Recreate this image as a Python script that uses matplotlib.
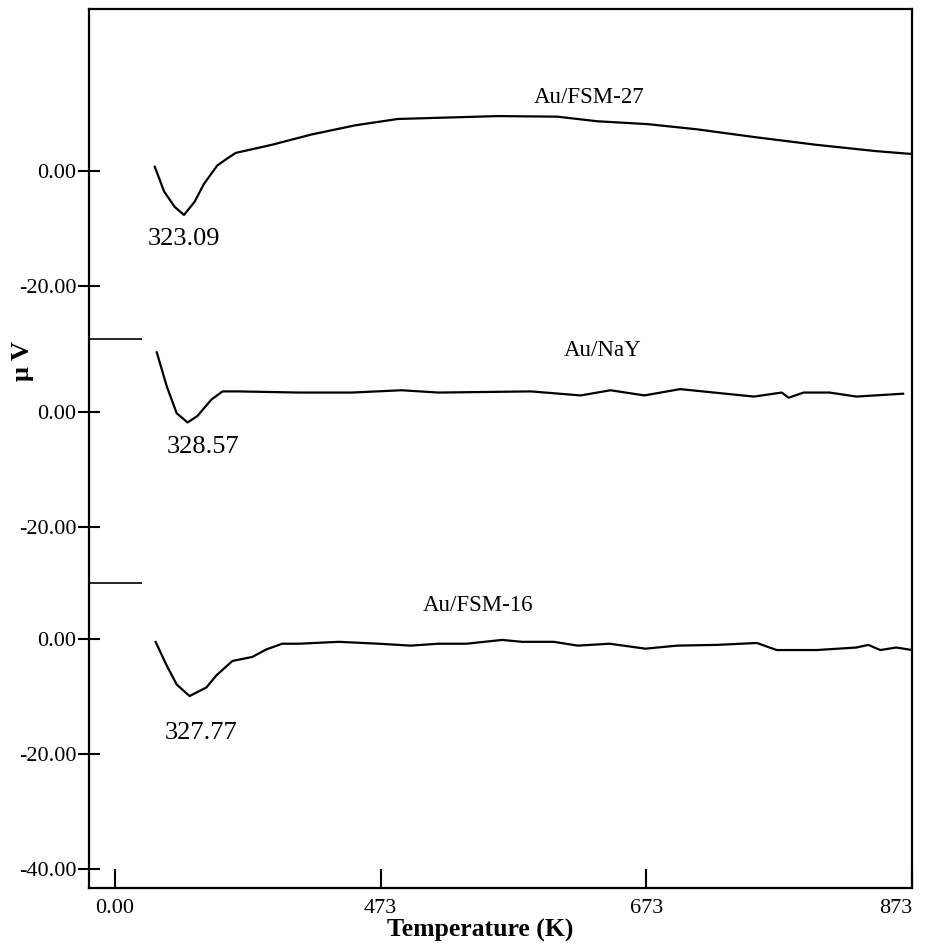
import numpy as np
import matplotlib
matplotlib.use("Agg")
import matplotlib.pyplot as plt

plt.rcParams['font.family'] = ['Liberation Serif', 'DejaVu Serif']

# Au/FSM-27 (top trace)
t_fsm27 = [303, 310, 318, 325, 333, 340, 350, 358, 364, 391, 421, 454, 486, 516,
           561, 606, 636, 674, 711, 756, 801, 846, 873]
v_fsm27 = [0.7, -3.6, -6.3, -7.7, -5.4, -2.3, 0.9, 2.2, 3.1, 4.5, 6.3, 7.9, 9.0, 9.2,
           9.5, 9.4, 8.6, 8.1, 7.2, 5.8, 4.5, 3.4, 2.9]

# Au/NaY (middle trace)
t_nay = [304.5, 312, 319.5, 327.7, 335, 345.7, 354, 366, 411.6, 451.3, 488.7, 516.4,
         586.1, 623.5, 646, 671.5, 698.4, 723.9, 753.9, 774.8, 780.1, 791.3, 810.8,
         831, 866.2]
v_nay = [10.4, 4.5, -0.2, -1.8, -0.7, 2.2, 3.6, 3.6, 3.4, 3.4, 3.8, 3.4,
         3.6, 2.9, 3.8, 2.9, 4.0, 3.4, 2.7, 3.4, 2.5, 3.4, 3.4,
         2.7, 3.2]

# Au/FSM-16 (bottom trace)
t_fsm16 = [303.7, 312, 319.5, 329.2, 341.9, 349.4, 361.4, 376.4, 386.9, 398.9, 411.6,
           441.5, 471.5, 495.5, 516.4, 537.4, 564.4, 579.4, 603.3, 621.3, 645.3, 672.2,
           696.2, 726.2, 756.1, 771.1, 801, 831, 840, 849, 861, 873]
v_fsm16 = [-0.5, -4.6, -7.9, -9.9, -8.4, -6.3, -3.8, -3.1, -1.8, -0.8, -0.8,
           -0.47, -0.8, -1.13, -0.8, -0.8, -0.14, -0.47, -0.47, -1.13, -0.8, -1.66,
           -1.13, -1.0, -0.67, -1.9, -1.9, -1.46, -1.0, -1.9, -1.46, -1.9]

offsets = [81.5, 39.5, 0.0]
names = ["Au/FSM-27", "Au/NaY", "Au/FSM-16"]
peaks = ["323.09", "328.57", "327.77"]
name_pos = [(630, 94.3), (640, 50.3), (546, 5.9)]
peak_pos = [(325, 69.7), (339, 33.4), (338, -16.3)]
separators = [52.2, 9.7]

x_ticks = [273, 473, 673, 873]
x_labels = ["0.00", "473", "673", "873"]

fig = plt.figure(figsize=(9.27, 9.47), dpi=100)
ax = fig.add_axes([0.096, 0.0623, 0.888, 0.928])

for t, v, off in zip([t_fsm27, t_nay, t_fsm16], [v_fsm27, v_nay, v_fsm16], offsets):
    ax.plot(t, np.array(v) + off, color="black", lw=1.6)

for (x, y), s in zip(name_pos, names):
    ax.text(x, y, s, ha="center", va="center", fontsize=16.5)
for (x, y), s in zip(peak_pos, peaks):
    ax.text(x, y, s, ha="center", va="center", fontsize=19)

ax.hlines(separators, 253.5, 293.5, color="black", lw=1.2)

yt = [offsets[0], offsets[0] - 20, offsets[1], offsets[1] - 20, 0, -20, -40]
yl = ["0.00", "-20.00", "0.00", "-20.00", "0.00", "-20.00", "-40.00"]
ax.set_yticks(yt)
ax.set_yticklabels(yl)
ax.set_xticks(x_ticks)
ax.set_xticklabels(x_labels)
ax.set_xlim(253.5, 873)
ax.set_ylim(-43.3, 109.6)

ax.tick_params(axis="y", direction="inout", length=16, width=1.5, labelsize=16, pad=1)
ax.tick_params(axis="x", direction="in", length=14, width=1.5, labelsize=16, pad=8)
ax.get_xticklabels()[-1].set_ha("right")
for sp in ax.spines.values():
    sp.set_linewidth(1.6)

ax.set_xlabel("Temperature (K)", fontsize=18.5, fontweight="bold")
ax.xaxis.set_label_coords(0.475, -0.035)
ax.text(-0.081, 0.6, "μ V", transform=ax.transAxes, rotation=90,
        ha="center", va="center", fontsize=19, fontweight="bold")

fig.savefig("out.png", dpi=100)
